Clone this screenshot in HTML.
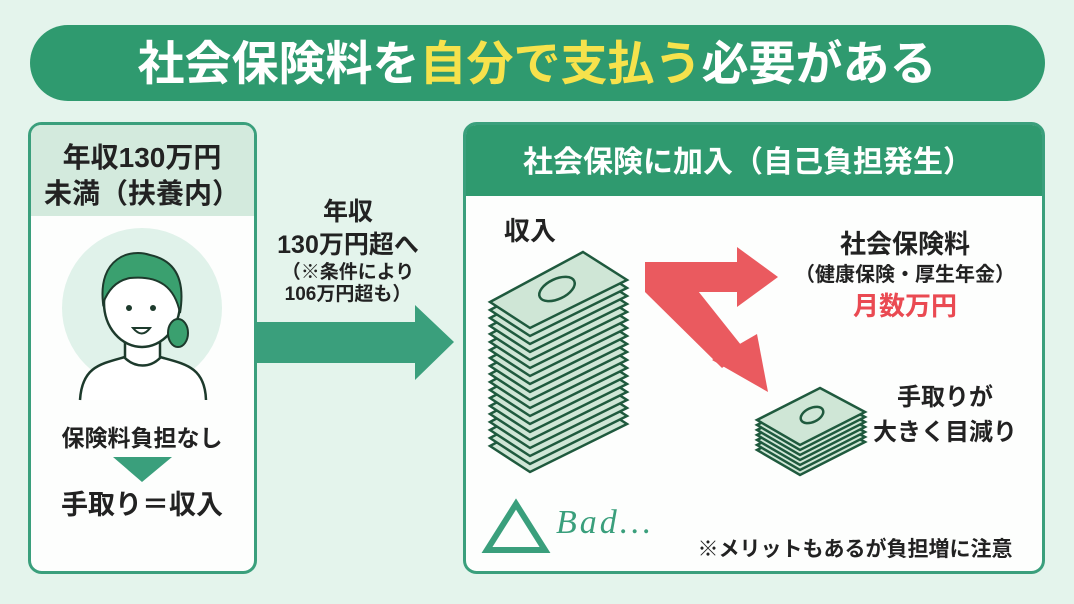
<!DOCTYPE html>
<html><head><meta charset="utf-8">
<style>
html,body{margin:0;padding:0;}
body{width:1074px;height:599px;background:#e4f4ec;overflow:hidden;font-family:"Liberation Sans","Noto Sans CJK JP",sans-serif;}
svg text{font-family:"Liberation Sans","Noto Sans CJK JP",sans-serif;font-weight:bold;}
</style></head><body>
<svg width="1074" height="599" viewBox="0 0 1074 599" xmlns="http://www.w3.org/2000/svg">
<defs>
 <g id="layer"><polygon points="583,252 627,280 530,328 490,302" fill="#cfe6d6" stroke="#1f5a3e" stroke-width="2.5"/></g>
 <g id="slayer"><polygon points="820,388 865,412 800,445 757,420" fill="#cfe6d6" stroke="#1f5a3e" stroke-width="2.5"/></g>
</defs>
<!-- title -->
<rect x="30" y="25" width="1015" height="76" rx="38" fill="#2f9a6f"/>
<text x="537" y="80" font-size="47" text-anchor="middle" fill="#fff">社会保険料を<tspan fill="#f6e24c">自分で支払う</tspan>必要がある</text>

<!-- left box -->
<rect x="29.5" y="123.5" width="226" height="449" rx="12" fill="#fdfefd" stroke="#3a9f7c" stroke-width="3"/>
<path d="M31,216 V135 a10,10 0 0 1 10,-10 H244 a10,10 0 0 1 10,10 V216 Z" fill="#d3eadd"/>
<text x="142" y="167" font-size="28" text-anchor="middle" fill="#222">年収130万円</text>
<text x="142" y="203" font-size="28" text-anchor="middle" fill="#222">未満（扶養内）</text>
<circle cx="142" cy="308" r="80" fill="#e0f2ea"/>
<!-- person -->
<path d="M80,400 C82,367 100,364 125,357 L160,357 C185,364 205,367 206,400" fill="#fff" stroke="#1d3a2c" stroke-width="2.5"/>
<path d="M125,342 L125,358 C135,368 150,368 160,358 L160,342" fill="#fff" stroke="#1d3a2c" stroke-width="2.5"/>
<ellipse cx="142" cy="303" rx="38" ry="44" fill="#fff" stroke="#1d3a2c" stroke-width="2.5"/>
<path d="M103,303 C98,258 130,248 150,255 C178,261 185,283 180,313 C175,288 160,275 130,278 C115,281 108,291 103,303 Z" fill="#3aa06f" stroke="#1d3a2c" stroke-width="2"/>
<ellipse cx="178" cy="333" rx="10" ry="14" fill="#3aa06f" stroke="#1d3a2c" stroke-width="2"/>
<circle cx="129" cy="308" r="3" fill="#1d3a2c"/><circle cx="153" cy="308" r="3" fill="#1d3a2c"/>
<path d="M133,328 Q142,339 150,328 Z" fill="#fff" stroke="#1d3a2c" stroke-width="2"/>
<text x="142" y="446" font-size="23" text-anchor="middle" fill="#222">保険料負担なし</text>
<polygon points="113,457 172,457 142,482" fill="#3a9f7c"/>
<text x="142" y="514" font-size="27" text-anchor="middle" fill="#222">手取り＝収入</text>

<!-- middle arrow -->
<polygon points="256,322 415,322 415,305 454,342 415,380 415,363 256,363" fill="#3a9f7c"/>
<text x="348" y="220" font-size="25" text-anchor="middle" fill="#222">年収</text>
<text x="348" y="253" font-size="25" text-anchor="middle" fill="#222">130万円超へ</text>
<text x="348" y="278" font-size="19" text-anchor="middle" fill="#222">（※条件により</text>
<text x="348" y="300" font-size="19" text-anchor="middle" fill="#222">106万円超も）</text>

<!-- right box -->
<rect x="464.5" y="123.5" width="579" height="449" rx="12" fill="#fdfefd" stroke="#3a9f7c" stroke-width="3"/>
<path d="M466,196 V135 a10,10 0 0 1 10,-10 H1032 a10,10 0 0 1 10,10 V196 Z" fill="#2f9a6f"/>
<text x="748" y="172" font-size="30" text-anchor="middle" fill="#fff">社会保険に加入（自己負担発生）</text>

<text x="530" y="240" font-size="26" text-anchor="middle" fill="#222">収入</text>
<!-- big stack -->
<g>
<use href="#layer" y="144"/><use href="#layer" y="136"/><use href="#layer" y="128"/><use href="#layer" y="120"/>
<use href="#layer" y="112"/><use href="#layer" y="104"/><use href="#layer" y="96"/><use href="#layer" y="88"/>
<use href="#layer" y="80"/><use href="#layer" y="72"/><use href="#layer" y="64"/><use href="#layer" y="56"/>
<use href="#layer" y="48"/><use href="#layer" y="40"/><use href="#layer" y="32"/><use href="#layer" y="24"/>
<use href="#layer" y="16"/><use href="#layer" y="8"/><use href="#layer" y="0"/>
<ellipse cx="557" cy="289" rx="19" ry="10" transform="rotate(-25 557 289)" fill="none" stroke="#1f5a3e" stroke-width="2.5"/>
</g>
<!-- small stack -->
<g>
<use href="#slayer" y="30"/><use href="#slayer" y="25"/><use href="#slayer" y="20"/><use href="#slayer" y="15"/>
<use href="#slayer" y="10"/><use href="#slayer" y="5"/><use href="#slayer" y="0"/>
<ellipse cx="812" cy="415" rx="12" ry="7" transform="rotate(-25 812 415)" fill="none" stroke="#1f5a3e" stroke-width="2.5"/>
</g>
<!-- red arrows -->
<g fill="#ea5a5f">
<rect x="645" y="262" width="95" height="30"/>
<polygon points="737,247 778,277 737,307"/>
<polygon points="645,262 675,262 745,350 722,368 645,292"/>
<polygon points="712,360 757,334 768,392"/>
</g>
<text x="905" y="253" font-size="26" text-anchor="middle" fill="#222">社会保険料</text>
<text x="905" y="281" font-size="20" text-anchor="middle" fill="#222">（健康保険・厚生年金）</text>
<text x="905" y="315" font-size="26" text-anchor="middle" fill="#ea4a52">月数万円</text>
<text x="945" y="405" font-size="24" text-anchor="middle" fill="#222">手取りが</text>
<text x="945" y="440" font-size="24" text-anchor="middle" fill="#222">大きく目減り</text>
<polygon points="516,504 545,550 487,550" fill="none" stroke="#3a9f7c" stroke-width="6" stroke-linejoin="miter"/>
<text x="556" y="533" font-size="34" font-style="italic" fill="#3a9f7c" style="font-weight:normal;font-family:'Liberation Serif',serif" letter-spacing="3">Bad...</text>
<text x="855" y="556" font-size="21" text-anchor="middle" fill="#222">※メリットもあるが負担増に注意</text>
</svg>
</body></html>
